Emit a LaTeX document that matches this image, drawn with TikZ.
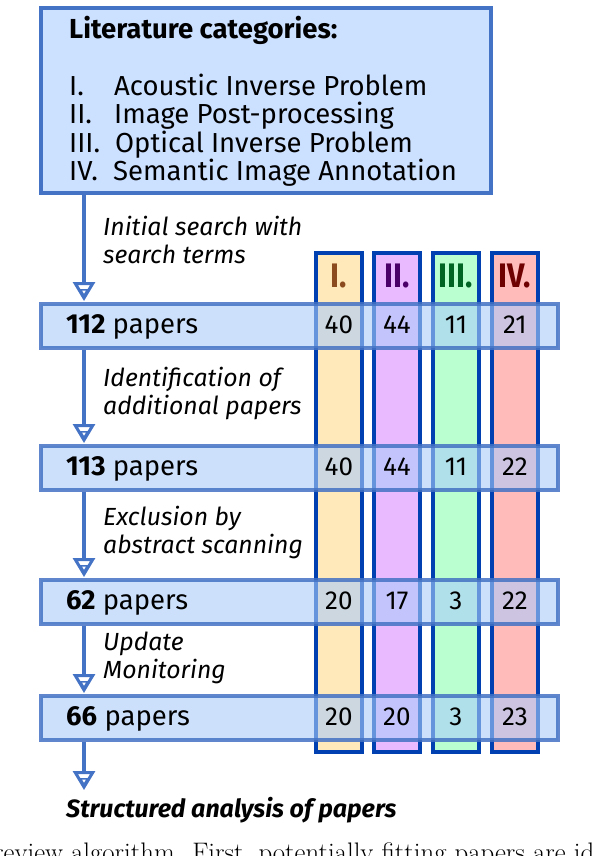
\documentclass[tikz,border=0pt]{standalone}
\usepackage{fontspec}
\setmainfont{Fira Sans}
\newfontfamily\lmfont{Latin Modern Roman}
\usetikzlibrary{arrows.meta}
\definecolor{boxfill}{RGB}{204,224,255}
\definecolor{boxborder}{RGB}{68,114,196}
\definecolor{rowfill}{RGB}{170,204,250}
\definecolor{colborder}{RGB}{0,64,176}
\definecolor{fillI}{RGB}{255,233,186}
\definecolor{fillII}{RGB}{233,186,255}
\definecolor{fillIII}{RGB}{186,255,208}
\definecolor{fillIV}{RGB}{255,186,186}
\definecolor{hdI}{RGB}{140,75,30}
\definecolor{hdII}{RGB}{75,0,105}
\definecolor{hdIII}{RGB}{0,100,35}
\definecolor{hdIV}{RGB}{110,0,0}
\begin{document}
\begin{tikzpicture}[x=1pt,y=-1pt,
  catbox/.style={draw=boxborder, line width=3.8pt, fill=boxfill, inner sep=0pt, anchor=north west},
  rowbox/.style={draw=boxborder, line width=3.8pt, fill=rowfill, fill opacity=0.6, draw opacity=0.85, inner sep=0pt, anchor=north west, minimum width=517pt, minimum height=44pt},
  colbox/.style={draw=colborder, line width=3.8pt, inner sep=0pt, anchor=north west, minimum width=46pt, minimum height=499pt},
  flow/.style={draw=boxborder, line width=4pt, shorten >=1pt,
    -{Triangle[open, length=8pt, width=9pt, line width=1.5pt, sep=-15pt]Triangle[open, length=19pt, width=22pt, line width=3pt]}},
  listtxt/.style={anchor=base west, inner sep=0pt, font=\fontsize{27.5}{28}\selectfont},
  titletxt/.style={anchor=base west, inner sep=0pt, font=\fontsize{27.5}{28}\selectfont\bfseries},
  steptxt/.style={anchor=base west, inner sep=0pt, font=\fontsize{24.8}{28}\selectfont\itshape},
  rowtxt/.style={anchor=base west, inner sep=0pt, font=\fontsize{27.5}{28}\selectfont},
  numtxt/.style={anchor=base, inner sep=0pt, font=\fontsize{26}{28}\selectfont},
  hdtxt/.style={anchor=base, inner sep=0pt, font=\fontsize{34}{34}\selectfont\bfseries},
  endtxt/.style={anchor=base west, inner sep=0pt, font=\fontsize{25}{28}\selectfont\bfseries\itshape},
  captxt/.style={anchor=base west, inner sep=0pt, font=\lmfont\fontsize{26.8}{28}\selectfont}
]
\clip (0,0) rectangle (594,856);
% top box
\node[catbox, minimum width=450pt, minimum height=185pt] (cat) at (39,6) {};
\node[titletxt] (title) at (69,39) {Literature categories:};
\node[listtxt] (l1) at (69,96) {\makebox[45pt][l]{I.}Acoustic Inverse Problem};
\node[listtxt] (l2) at (69,124) {\makebox[45pt][l]{II.}Image Post-processing};
\node[listtxt] (l3) at (69,152) {\makebox[46pt][l]{III.}Optical Inverse Problem};
\node[listtxt] (l4) at (69,180) {\makebox[44pt][l]{IV.}Semantic Image Annotation};
% columns
\node[colbox, fill=fillI]   (c1) at (314,251) {};
\node[colbox, fill=fillII]  (c2) at (372,251) {};
\node[colbox, fill=fillIII] (c3) at (431,251) {};
\node[colbox, fill=fillIV]  (c4) at (490,251) {};
\node[hdtxt, text=hdI]   (h1) at (c1.center |- 0,287) {\scalebox{0.9}[1]{I.}};
\node[hdtxt, text=hdII]  (h2) at (c2.center |- 0,287) {\scalebox{0.9}[1]{II.}};
\node[hdtxt, text=hdIII] (h3) at (c3.center |- 0,287) {\scalebox{0.9}[1]{III.}};
\node[hdtxt, text=hdIV]  (h4) at (c4.center |- 0,287) {\scalebox{0.9}[1]{IV.}};
% rows
\node[rowbox] (r1) at (39,302) {};
\node[rowbox] (r2) at (39,444) {};
\node[rowbox] (r3) at (39,578) {};
\node[rowbox] (r4) at (39,694) {};
\node[rowtxt] (p1) at (66,333) {\textbf{112} papers};
\node[rowtxt] (p2) at (66,475) {\textbf{113} papers};
\node[rowtxt] (p3) at (66,609) {\textbf{62} papers};
\node[rowtxt] (p4) at (66,725) {\textbf{66} papers};
\foreach \r/\y/\a/\b/\c/\d in {1/333/40/44/11/21, 2/475/40/44/11/22, 3/609/20/17/3/22, 4/725/20/20/3/23}{
  \node[numtxt] (n\r a) at (c1.center |- 0,\y) {\a};
  \node[numtxt] (n\r b) at (c2.center |- 0,\y) {\b};
  \node[numtxt] (n\r c) at (c3.center |- 0,\y) {\c};
  \node[numtxt] (n\r d) at (c4.center |- 0,\y) {\d};
}
% arrows
\coordinate (ax) at (84,0);
\coordinate (endpt) at (84,790);
\draw[flow] (ax |- cat.south) -- (ax |- r1.north);
\draw[flow] (ax |- r1.south) -- (ax |- r2.north);
\draw[flow] (ax |- r2.south) -- (ax |- r3.north);
\draw[flow] (ax |- r3.south) -- (ax |- r4.north);
\draw[flow, shorten >=0pt] (ax |- r4.south) -- (endpt);
% step labels
\node[steptxt] (s1a) at (103,235) {Initial search with};
\node[steptxt] (s1b) at (103,263) {search terms};
\node[steptxt] (s2a) at (103,386) {Identification of};
\node[steptxt] (s2b) at (103,414) {additional papers};
\node[steptxt] (s3a) at (103,525) {Exclusion by};
\node[steptxt] (s3b) at (103,553) {abstract scanning};
\node[steptxt] (s4a) at (103,650) {Update};
\node[steptxt] (s4b) at (103,678) {Monitoring};
\node[endtxt] (fin) at (66,817) {Structured analysis of papers};
% cut caption line
\node[captxt] (cap) at (-6,861) {review algorithm. First, potentially fitting papers are identified};
\end{tikzpicture}
\end{document}
